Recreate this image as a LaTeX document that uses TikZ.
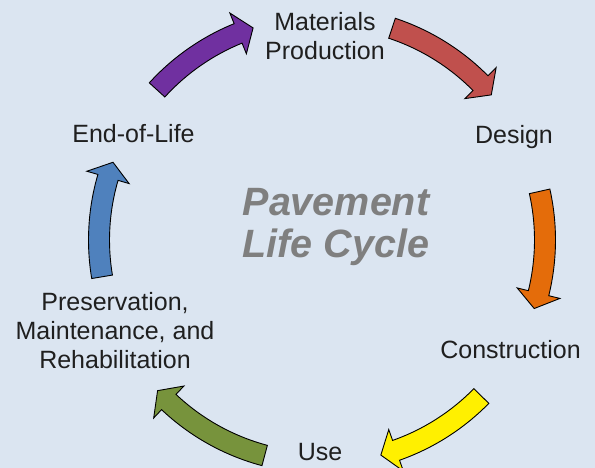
\documentclass[tikz,border=0pt]{standalone}
\usepackage{fontspec}
\usetikzlibrary{calc}
\newfontfamily\labfont{Liberation Sans}
\definecolor{bgc}{HTML}{DBE5F1}
\definecolor{cpurple}{HTML}{7030A0}
\definecolor{cred}{HTML}{C0504D}
\definecolor{corange}{HTML}{E46C0A}
\definecolor{cyellow}{HTML}{FFF000}
\definecolor{cgreen}{HTML}{77933C}
\definecolor{cblue}{HTML}{4F81BD}
\definecolor{ctext}{HTML}{1F1F1F}
\definecolor{ctitle}{HTML}{7F7F7F}
\newcommand\cyclearrow[3]{%
  \filldraw[#1, draw=black, line width=0.9pt, line join=miter]
    ($(C)+(#2:233.5pt)$) arc[start angle=#2, end angle=#3+4.1, radius=233.5pt]
    -- ($(C)+(#3+4.1:245pt)$) -- ($(C)+(#3:223pt)$) -- ($(C)+(#3+4.1:201pt)$)
    -- ($(C)+(#3+4.1:212.5pt)$) arc[start angle=#3+4.1, end angle=#2, radius=212.5pt]
    -- cycle;}
\tikzset{
  lab/.style={font=\labfont\fontsize{25}{29}\selectfont, text=ctext, align=center, inner sep=0pt},
  ttl/.style={font=\labfont\bfseries\itshape\fontsize{39.5}{42}\selectfont, text=ctitle, align=center, inner sep=0pt}
}
\begin{document}
\begin{tikzpicture}[x=1pt,y=1pt]
\useasboundingbox (0,0) rectangle (595,468);
\fill[bgc] (0,0) rectangle (595,468);
\coordinate (C) at (322,228);
\cyclearrow{cpurple}{137.7}{108}
\cyclearrow{cred}{71.7}{40.6}
\cyclearrow{corange}{12.6}{-17.9}
\cyclearrow{cyellow}{-44.4}{-74.7}
\cyclearrow{cgreen}{-104.9}{-137.5}
\cyclearrow{cblue}{189.5}{159.6}
\node[lab] (mat) at (325,432) {Materials\\Production};
\node[lab] (des) at (514,331) {Design};
\node[lab] (con) at (510.5,118) {Construction};
\node[lab] (use) at (320,16) {Use};
\node[lab] (pmr) at (115,137) {Preservation,\\Maintenance, and\\Rehabilitation};
\node[lab] (eol) at (133.5,334) {End-of-Life};
\node[ttl] (title) at (336,241) {Pavement\\Life Cycle};
\end{tikzpicture}
\end{document}
